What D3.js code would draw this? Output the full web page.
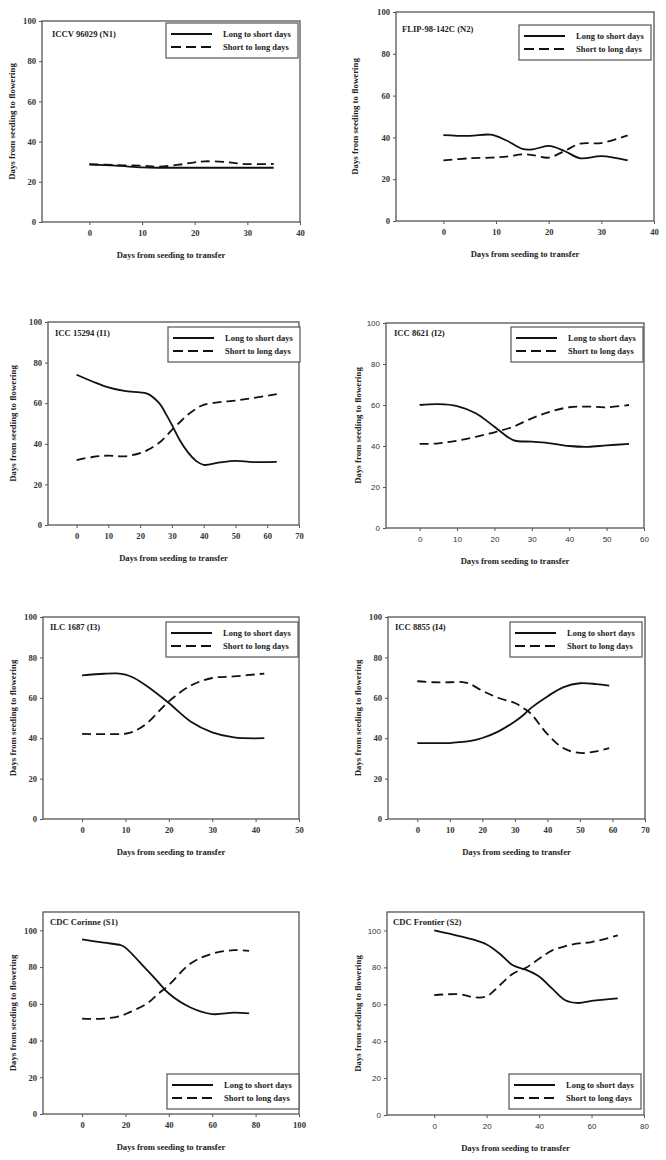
<!DOCTYPE html>
<html><head><meta charset="utf-8">
<script src="https://cdn.jsdelivr.net/npm/d3@7/dist/d3.min.js"></script>
<style>body{margin:0;background:#fff}svg{display:block}</style>
</head><body>
<svg id="c" width="666" height="1160"></svg>
<script>
// ---------------- DATA ----------------
const panelNames = ["ICCV 96029 (N1)","FLIP-98-142C (N2)","ICC 15294 (I1)","ICC 8621 (I2)","ILC 1687 (I3)","ICC 8855 (I4)","CDC Corinne (S1)","CDC Frontier (S2)"];
const seriesNames = ["Long to short days","Short to long days"];
const xTitle = "Days from seeding to transfer";
const yTitle = "Days from seeding to flowering";
const yTicks = [0,20,40,60,80,100];
const xTicksN = [0,10,20,30,40];
const xTicksI1 = [0,10,20,30,40,50,60,70];
const xTicksI2 = [0,10,20,30,40,50,60];
const xTicksI3 = [0,10,20,30,40,50];
const xTicksI4 = [0,10,20,30,40,50,60,70];
const xTicksS1 = [0,20,40,60,80,100];
const xTicksS2 = [0,20,40,60,80];

const n1X = [0,5,10,13,17,20,22,26,30,35];
const n1Long = [28.5,28,27.2,27,27,27,27,27,27,27];
const n1Short = [28.8,28.3,28,27.5,28.5,29.7,30.2,29.8,28.8,28.9];

const n2X = [0,5,9,12,15,17,20,23,26,30,35];
const n2Long = [41.1,40.7,41.3,38.5,34.5,34.3,35.9,33.5,30,31,29];
const n2Short = [29,30,30.3,30.8,31.9,31.5,30.3,33.5,37,37.3,41];

const i1X = [0,5,10,15,20,22.4,26,28,30,32.4,35,37.6,40,45,50,55.5,63];
const i1Long = [74,70.7,67.8,66.1,65.3,64.6,60,55,49.3,42,35.9,31.6,29.6,30.8,31.6,31,31.1];
const i1Short = [32,33.5,34.2,33.8,35.4,37,40.5,43.5,46.9,50.5,54.3,57.3,59.2,60.5,61.3,62.5,64.5];

const i2X = [0,5,10,15,20,25,30,35,40,45,50,56];
const i2Long = [60,60.4,59.5,56,49.4,42.9,42.1,41.3,40,39.6,40.3,41];
const i2Short = [41,41.3,42.6,44.5,46.7,49.4,53.5,56.8,58.9,59.2,58.9,60];

const i3X = [0,5,8,10,12,15,20,25,30,35,42];
const i3Long = [71.1,71.9,72.1,71.5,69.8,65.7,57.4,48.3,42.9,40.4,40];
const i3Short = [42.1,42,42,42.2,43.4,47.5,58.2,66,69.8,70.6,72];

const i4X = [0,5,10,14,16,20,25,30,33,35,40,45,50,55,59];
const i4Long = [37.6,37.6,37.6,38.2,38.5,40.1,43.4,48.3,52,55,60.7,65.3,67.2,66.8,66];
const i4Short = [68.2,67.7,67.7,67.8,67,63.5,59.9,57.4,54.5,52,42,35,32.7,33.5,35.1];

const s1X = [0,10,18,20,30,35,40,50,60,70,77];
const s1Long = [95.1,93.3,91.9,90.6,78.3,72,65.6,58,54.4,55.2,54.8];
const s1Short = [51.9,51.9,53.5,54.4,60.2,65.3,70.2,81.9,87.3,89.2,88.8];

const s2X = [0,10,15,20,25,30,35,40,45,50,55,60,70];
const s2Long = [100,96.8,95,92.4,87.4,81.1,78.7,75.1,68.5,62.2,60.7,61.8,63.2];
const s2Short = [65,65.4,63.8,64.3,70.3,76.6,79.8,84.7,89.2,91.5,93,93.7,97.3];

// ---------------- LAYOUT (positions only) ----------------
const layout = [
  {l:42,r:300,t:21,b:222,xd:[-9,40],yd:[0,100],xt:xTicksN,ytx:30,lg:{x:166,y:23},lb:{x:52,y:37},sans:false},
  {l:396,r:654,t:12,b:221,xd:[-9,40],yd:[0,100],xt:xTicksN,ytx:41,lg:{x:519,y:25},lb:{x:402,y:32},sans:false},
  {l:48,r:299,t:322,b:525,xd:[-9,70],yd:[0,100],xt:xTicksI1,ytx:35,lg:{x:168,y:327},lb:{x:55,y:336},sans:false},
  {l:386,r:644,t:323,b:528,xd:[-9,60],yd:[0,100],xt:xTicksI2,ytx:28,lg:{x:511,y:327},lb:{x:394,y:336},sans:true},
  {l:43,r:299,t:617,b:819,xd:[-9,50],yd:[0,100],xt:xTicksI3,ytx:30,lg:{x:166,y:622},lb:{x:50,y:630},sans:false},
  {l:388,r:645,t:617,b:819,xd:[-9,70],yd:[0,100],xt:xTicksI4,ytx:30,lg:{x:510,y:622},lb:{x:395,y:630},sans:false},
  {l:43,r:299,t:912,b:1114,xd:[-18,100],yd:[0,110],xt:xTicksS1,ytx:30,lg:{x:167,y:1074},lb:{x:50,y:925},sans:false},
  {l:387,r:644,t:912,b:1115,xd:[-18,80],yd:[0,110],xt:xTicksS2,ytx:29,lg:{x:509,y:1074},lb:{x:393,y:925},sans:true}
];
const data = [
  [n1X,n1Long,n1Short],[n2X,n2Long,n2Short],[i1X,i1Long,i1Short],[i2X,i2Long,i2Short],
  [i3X,i3Long,i3Short],[i4X,i4Long,i4Short],[s1X,s1Long,s1Short],[s2X,s2Long,s2Short]
];

const SERIF = "'Liberation Serif','Times New Roman',serif";
const SANS = "'Liberation Sans',Arial,sans-serif";
const svg = d3.select("#c");
const dashes = [null,"9,5"];

layout.forEach((L,i)=>{
  const g = svg.append("g");
  const x = d3.scaleLinear().domain(L.xd).range([L.l,L.r]);
  const y = d3.scaleLinear().domain(L.yd).range([L.b,L.t]);
  const tickFont = L.sans ? SANS : SERIF;
  const tickSize = L.sans ? "8px" : "8.6px";

  // axes
  const ax = g.append("g").attr("transform",`translate(0,${L.b})`)
    .call(d3.axisBottom(x).tickValues(L.xt).tickSize(3).tickPadding(5).tickFormat(d3.format("d")));
  const ay = g.append("g").attr("transform",`translate(${L.l},0)`)
    .call(d3.axisLeft(y).tickValues(yTicks).tickSize(3).tickPadding(3).tickFormat(d3.format("d")));
  [ax,ay].forEach(a=>{
    a.select(".domain").remove();
    a.selectAll("line").attr("stroke","#555").attr("stroke-width",1);
    a.selectAll("text").attr("font-family",tickFont).attr("font-size",tickSize)
      .attr("font-weight", L.sans ? "normal" : "bold").attr("fill","#333");
  });

  // frame
  g.append("rect").attr("x",L.l).attr("y",L.t).attr("width",L.r-L.l).attr("height",L.b-L.t)
    .attr("fill","none").attr("stroke","#555").attr("stroke-width",1.3);

  // lines
  const [xs,lng,sht] = data[i];
  [lng,sht].forEach((vals,k)=>{
    const line = d3.line().x((d,j)=>x(xs[j])).y(d=>y(d)).curve(d3.curveCatmullRom.alpha(0.5));
    g.append("path").datum(vals).attr("d",line).attr("fill","none")
      .attr("stroke","#111").attr("stroke-width",1.8)
      .attr("stroke-dasharray",dashes[k]);
  });

  // titles
  g.append("text").attr("x",(L.l+L.r)/2).attr("y",L.b+36).attr("text-anchor","middle")
    .attr("font-family",SERIF).attr("font-weight","bold").attr("font-size","8.6px").attr("fill","#222")
    .text(xTitle);
  g.append("text").attr("transform",`translate(${L.l-L.ytx+3},${(L.t+L.b)/2}) rotate(-90)`)
    .attr("text-anchor","middle")
    .attr("font-family",SERIF).attr("font-weight","bold").attr("font-size","8.8px").attr("fill","#222")
    .text(yTitle);
  g.append("text").attr("x",L.lb.x).attr("y",L.lb.y)
    .attr("font-family",SERIF).attr("font-weight","bold").attr("font-size","8.6px").attr("fill","#222")
    .text(panelNames[i]);

  // legend
  const lg = g.append("g").attr("transform",`translate(${L.lg.x},${L.lg.y})`);
  lg.append("rect").attr("width",132).attr("height",35).attr("fill","#fff")
    .attr("stroke","#555").attr("stroke-width",1.2);
  seriesNames.forEach((s,k)=>{
    const yy = 11 + k*13;
    lg.append("line").attr("x1",5).attr("x2",46).attr("y1",yy).attr("y2",yy)
      .attr("stroke","#111").attr("stroke-width",1.8).attr("stroke-dasharray",dashes[k] ? "10,5" : null);
    lg.append("text").attr("x",57).attr("y",yy+3)
      .attr("font-family",SERIF).attr("font-weight","bold").attr("font-size","8.5px").attr("fill","#222")
      .text(s);
  });
});
</script>
</body></html>
